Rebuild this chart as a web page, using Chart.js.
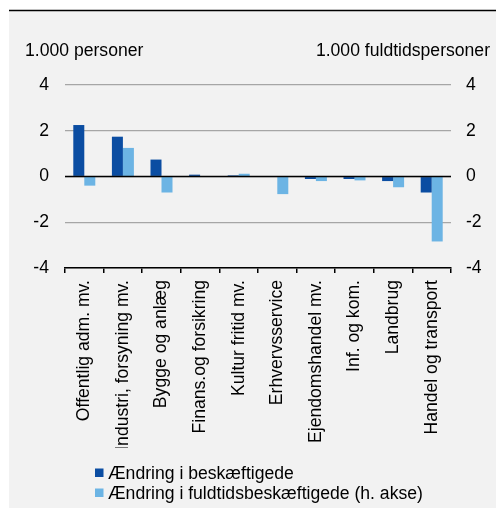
<!DOCTYPE html>
<html>
<head>
<meta charset="utf-8">
<script src="https://cdn.jsdelivr.net/npm/chart.js@4"></script>
<style>
  html, body { margin: 0; padding: 0; background: #fff; }
  canvas { display: block; }
</style>
</head>
<body>
<canvas id="chart" width="496" height="508"></canvas>
<script>
// Data
const categories = [
    'Offentlig adm. mv.',
    'Industri, forsyning mv.',
    'Bygge og anlæg',
    'Finans.og forsikring',
    'Kultur fritid mv.',
    'Erhvervsservice',
    'Ejendomshandel mv.',
    'Inf. og kom.',
    'Landbrug',
    'Handel og transport'
];
const employed = [2.25, 1.74, 0.74, 0.08, 0.05, 0, -0.11, -0.11, -0.2, -0.7];
const fullTime = [-0.4, 1.25, -0.7, 0.02, 0.12, -0.77, -0.2, -0.17, -0.47, -2.84];
const seriesNames = ['Ændring i beskæftigede', 'Ændring i fuldtidsbeskæftigede (h. akse)'];
const leftTitle = '1.000 personer';
const rightTitle = '1.000 fuldtidspersoner';

const FONT = '"Liberation Sans", Arial, sans-serif';
const FS = 17.6;
const DARK = '#0b4da2';
const LIGHT = '#6cb4e4';

// Background, axis titles, zero line and legend
const decor = {
    id: 'decor',
    beforeDraw(chart) {
        const c = chart.ctx;
        c.save();
        c.fillStyle = '#fff';
        c.fillRect(0, 0, chart.width, chart.height);
        c.fillStyle = '#f2f2f2';
        c.fillRect(9, 10, chart.width - 9, chart.height - 10);
        c.strokeStyle = '#000';
        c.lineWidth = 1.5;
        c.beginPath();
        c.moveTo(9, 10.5);
        c.lineTo(chart.width, 10.5);
        c.stroke();
        c.restore();
    },
    afterDatasetsDraw(chart) {
        const c = chart.ctx;
        const area = chart.chartArea;
        const y0 = chart.scales.y.getPixelForValue(0);
        c.save();
        c.strokeStyle = '#000';
        c.lineWidth = 1.5;
        c.beginPath();
        c.moveTo(area.left, y0);
        c.lineTo(area.right, y0);
        c.stroke();
        c.restore();
    },
    afterDraw(chart) {
        const c = chart.ctx;
        c.save();
        c.fillStyle = '#000';
        c.font = FS + 'px ' + FONT;
        c.textBaseline = 'alphabetic';
        c.textAlign = 'left';
        c.fillText(leftTitle, 25, 56);
        c.textAlign = 'right';
        c.fillText(rightTitle, 490, 56);

        // legend
        c.textAlign = 'left';
        c.textBaseline = 'middle';
        chart.data.datasets.forEach((ds, i) => {
            const yc = 472.7 + i * 20;
            c.fillStyle = ds.backgroundColor;
            c.fillRect(95, yc - 4.2, 8.5, 8.5);
            c.fillStyle = '#000';
            c.fillText(ds.label, 108, yc + 1);
        });
        c.restore();
    }
};

new Chart(document.getElementById('chart'), {
    type: 'bar',
    data: {
        labels: categories,
        datasets: [
            {
                label: seriesNames[0],
                data: employed,
                backgroundColor: DARK,
                yAxisID: 'y',
                categoryPercentage: 0.57,
                barPercentage: 1.0
            },
            {
                label: seriesNames[1],
                data: fullTime,
                backgroundColor: LIGHT,
                yAxisID: 'y1',
                categoryPercentage: 0.57,
                barPercentage: 1.0
            }
        ]
    },
    options: {
        responsive: false,
        devicePixelRatio: 1,
        animation: false,
        layout: {
            padding: { top: 85, left: 0, right: 0, bottom: 60 }
        },
        plugins: {
            legend: { display: false },
            tooltip: { enabled: false }
        },
        scales: {
            x: {
                afterFit(scale) { scale.height = 180; },
                grid: {
                    display: true,
                    drawOnChartArea: false,
                    drawTicks: true,
                    tickLength: 5,
                    color: '#000',
                    lineWidth: 1.5,
                    offset: true
                },
                border: { display: true, color: '#000', width: 1.5 },
                ticks: {
                    color: '#000',
                    font: { family: FONT, size: FS },
                    minRotation: 90,
                    maxRotation: 90,
                    autoSkip: false,
                    padding: 7
                }
            },
            y: {
                position: 'left',
                min: -4,
                max: 4,
                afterFit(scale) { scale.width = 65; },
                grid: {
                    display: true,
                    drawOnChartArea: true,
                    drawTicks: false,
                    color: '#a6a6a6',
                    lineWidth: 1.2
                },
                border: { display: false },
                ticks: {
                    stepSize: 2,
                    color: '#000',
                    font: { family: FONT, size: FS },
                    padding: 16
                }
            },
            y1: {
                position: 'right',
                min: -4,
                max: 4,
                afterFit(scale) { scale.width = 45; },
                grid: { drawOnChartArea: false, drawTicks: false },
                border: { display: false },
                ticks: {
                    stepSize: 2,
                    color: '#000',
                    font: { family: FONT, size: FS },
                    padding: 15
                }
            }
        }
    },
    plugins: [decor]
});
</script>
</body>
</html>
